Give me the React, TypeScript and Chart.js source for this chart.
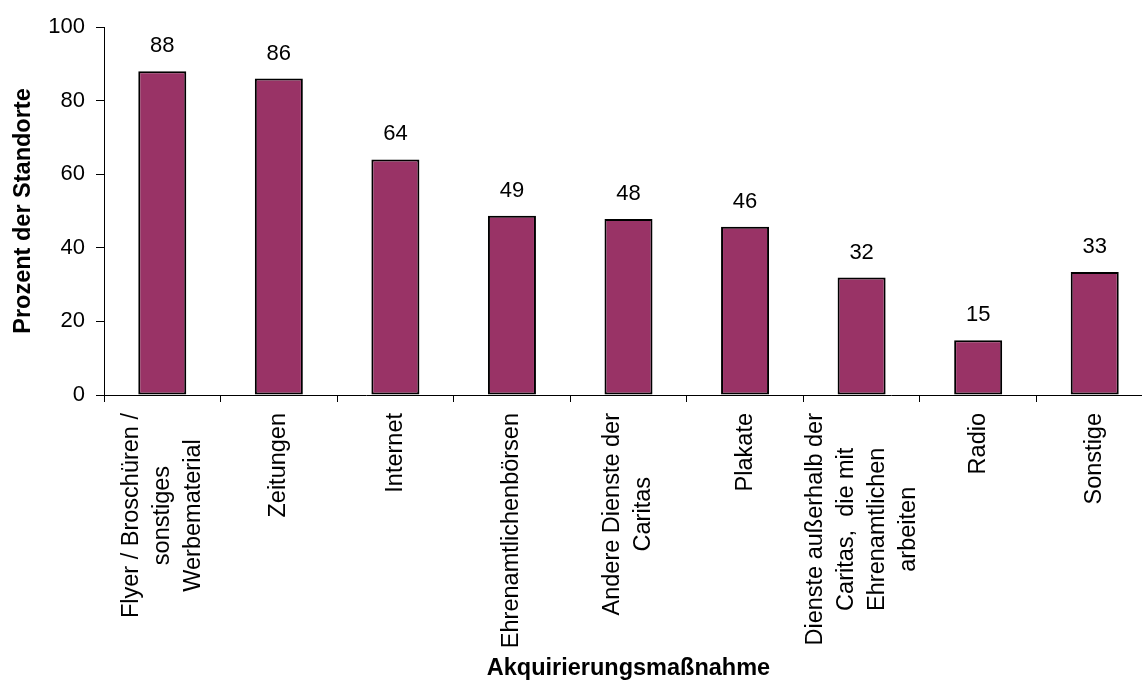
import React, { useEffect, useRef } from "react";
import { Chart, registerables } from "chart.js";

Chart.register(...registerables);

const FONT = '"Liberation Sans", Arial, Helvetica, sans-serif';

const categories: string[][] = [
  ["Flyer / Broschüren /", "sonstiges", "Werbematerial"],
  ["Zeitungen"],
  ["Internet"],
  ["Ehrenamtlichenbörsen"],
  ["Andere Dienste der", "Caritas"],
  ["Plakate"],
  ["Dienste außerhalb der", "Caritas,  die mit", "Ehrenamtlichen", "arbeiten"],
  ["Radio"],
  ["Sonstige"],
];

const values: number[] = [88, 86, 64, 48.7, 47.8, 45.7, 31.9, 14.9, 33.4];
const valueLabels: string[] = ["88", "86", "64", "49", "48", "46", "32", "15", "33"];

const yMin = 0;
const yMax = 100;
const yStep = 20;

const yTitle = "Prozent der Standorte";
const xTitle = "Akquirierungsmaßnahme";

const X_LABEL_SIZE = 23.5;
const X_LINE_H = 31;

const xLabelPlugin = {
  id: "xLabelsCentered",
  afterDraw(chart: any) {
    const ctx = chart.ctx;
    const xs = chart.scales.x;
    ctx.save();
    ctx.font = `${X_LABEL_SIZE}px ${FONT}`;
    ctx.fillStyle = "#000";
    ctx.textAlign = "center";
    ctx.textBaseline = "middle";
    categories.forEach((lines, i) => {
      const x = xs.getPixelForTick(i);
      const maxW = Math.max(...lines.map((l) => ctx.measureText(l).width));
      const topY = xs.top + 18;
      const cy = topY + maxW / 2;
      const n = lines.length;
      ctx.save();
      ctx.translate(x, cy);
      ctx.rotate(-Math.PI / 2);
      lines.forEach((l, j) => {
        ctx.fillText(l, 0, (j - (n - 1) / 2) * X_LINE_H);
      });
      ctx.restore();
    });
    ctx.restore();
  },
};

const valueLabelPlugin = {
  id: "valueLabels",
  afterDatasetsDraw(chart: any) {
    const ctx = chart.ctx;
    const meta = chart.getDatasetMeta(0);
    ctx.save();
    ctx.font = `22px ${FONT}`;
    ctx.fillStyle = "#000";
    ctx.textAlign = "center";
    ctx.textBaseline = "alphabetic";
    meta.data.forEach((bar: any, i: number) => {
      ctx.fillText(valueLabels[i], bar.x, bar.y - 19);
    });
    ctx.restore();
  },
};

export default function App() {
  const ref = useRef<HTMLCanvasElement>(null);

  useEffect(() => {
    if (!ref.current) return;
    const chart = new Chart(ref.current, {
      type: "bar",
      data: {
        labels: categories.map((c) => c.join(" ")),
        datasets: [
          {
            data: values,
            backgroundColor: "#993366",
            borderColor: "#000000",
            borderWidth: 2,
            borderSkipped: false,
            barPercentage: 0.412,
            categoryPercentage: 1,
          },
        ],
      },
      options: {
        responsive: false,
        animation: false,
        events: [],
        layout: { padding: { top: 27, right: 7, left: 0, bottom: 0 } },
        plugins: {
          legend: { display: false },
          tooltip: { enabled: false },
        },
        scales: {
          x: {
            afterFit: (s: any) => {
              s.height = 288;
            },
            ticks: { display: false },
            grid: {
              drawOnChartArea: false,
              drawTicks: true,
              tickLength: 7,
              color: "#000",
              offset: true,
            },
            border: { color: "#000", width: 1 },
            title: {
              display: true,
              text: xTitle,
              color: "#000",
              font: { family: FONT, size: 23.5, weight: "bold" },
              padding: { top: 0, bottom: 0 },
            },
          },
          y: {
            min: yMin,
            max: yMax,
            afterFit: (s: any) => {
              s.width = 104;
            },
            ticks: {
              stepSize: yStep,
              color: "#000",
              padding: 11,
              font: { family: FONT, size: 22 },
            },
            grid: {
              drawOnChartArea: false,
              drawTicks: true,
              tickLength: 8,
              color: "#000",
            },
            border: { color: "#000", width: 1 },
            title: {
              display: true,
              text: yTitle,
              color: "#000",
              font: { family: FONT, size: 23.5, weight: "bold" },
              padding: { top: 9, bottom: 0 },
            },
          },
        },
      },
      plugins: [xLabelPlugin, valueLabelPlugin],
    });
    return () => chart.destroy();
  }, []);

  return (
    <div
      style={{
        position: "fixed",
        left: 0,
        top: 0,
        width: 1142,
        height: 683,
        overflow: "hidden",
        background: "#fff",
      }}
    >
      <canvas ref={ref} width={1160} height={683} style={{ display: "block" }} />
    </div>
  );
}
